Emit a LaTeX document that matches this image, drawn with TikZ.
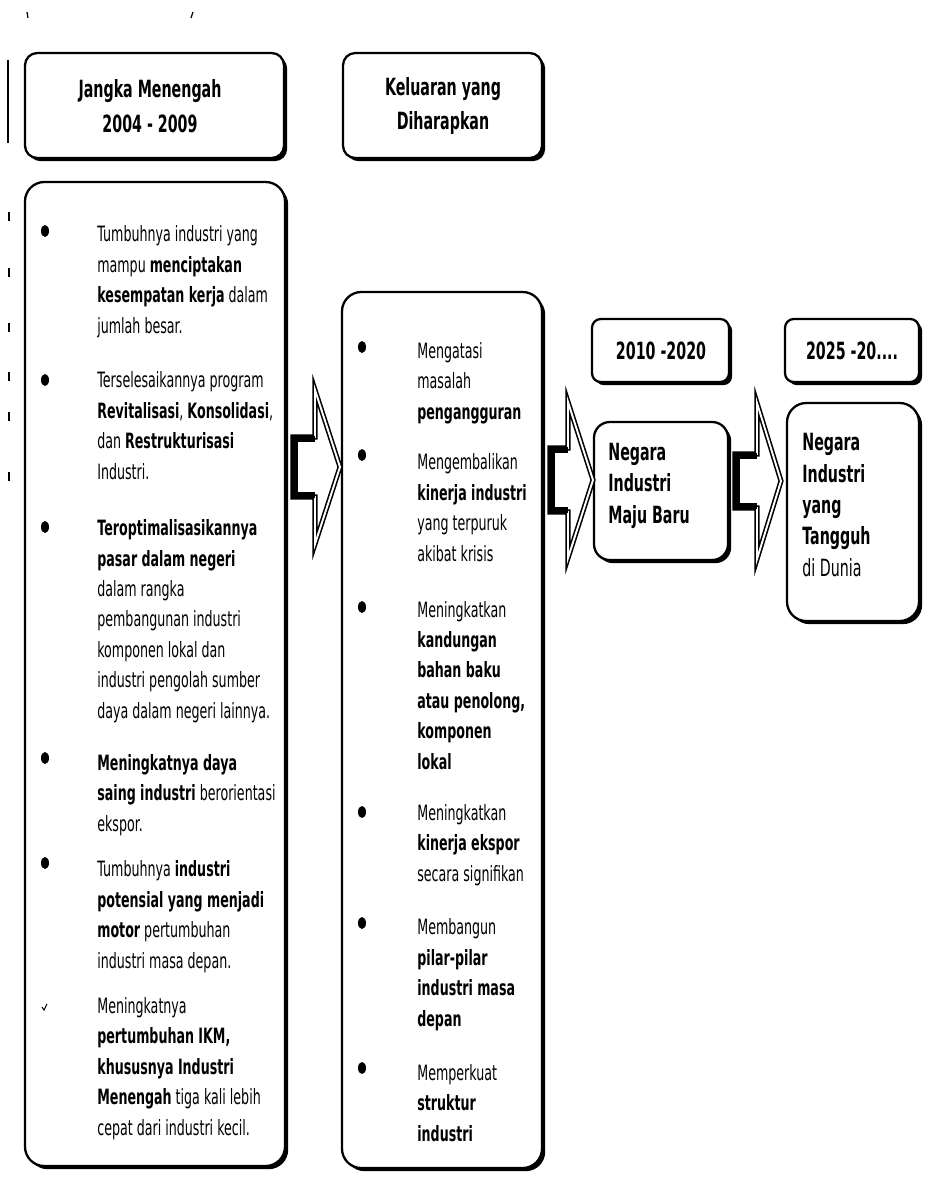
\documentclass[tikz,border=0pt]{standalone}
\usepackage{fontspec}
\setmainfont{DejaVu Sans}[FakeStretch=0.6]
\usetikzlibrary{fit,shadows}

\newcommand{\isifont}{\fontsize{12}{17.3}\selectfont}
\newcommand{\judulfont}{\fontsize{13.5}{19.8}\selectfont\bfseries}
\newcommand{\negarafont}{\fontsize{13.5}{17.8}\selectfont}

\tikzset{
kotak/.style={draw, line width=1.3pt, fill=white, inner sep=0pt,
  drop shadow={shadow xshift=1.8pt, shadow yshift=-1.8pt, opacity=1, fill=black}},
isi/.style={anchor=base west, align=left, inner sep=0pt, font=\isifont},
judul/.style={align=center, inner sep=0pt, font=\judulfont},
negara/.style={anchor=base west, align=left, inner sep=0pt, font=\negarafont},
}

\newcommand{\kotak}[6]{
\node[kotak, rounded corners=#6, fit={(#2,#3) (#4,#5)}] (#1) {};
}
\newcommand{\titik}[2]{
\fill (#1,#2) ellipse [x radius=4, y radius=6];
}
\newcommand{\panah}[6]{
\draw[line width=0.9pt, double=white, double distance=1.1pt, line join=miter, miter limit=20]
  (#1,#4-#5) -- (#2,#4-#5) -- (#2,#4-#6) -- (#3,#4) -- (#2,#4+#6) -- (#2,#4+#5) -- (#1,#4+#5) -- cycle;
\draw[line width=3.5pt] (#2,#4-#5+2) -- (#1+2,#4-#5+2) -- (#1+2,#4+#5-2) -- (#2,#4+#5-2);
}

\begin{document}
\begin{tikzpicture}[x=0.02cm, y=-0.02cm]
\useasboundingbox (0,0) rectangle (925,1184);

\kotak{jangka}{25}{53}{284}{158}{7pt}
\kotak{keluaran}{343}{53}{542}{158}{7pt}
\kotak{kiri}{25}{182}{285}{1166}{11pt}
\kotak{tengah}{342}{292}{542}{1168}{11pt}
\kotak{th2010}{592}{319}{729}{382}{5pt}
\kotak{th2025}{785}{319}{919}{382}{5pt}
\kotak{maju}{594}{422}{728}{560}{9pt}
\kotak{tangguh}{787}{403}{919}{621}{11pt}

\node[judul] (t-jangka) at (150,106) {Jangka Menengah\\2004 - 2009};
\node[judul] (t-keluaran) at (443,106) {Keluaran yang\\Diharapkan};
\node[judul] (t-2010) at (661,351) {2010 -2020};
\node[judul] (t-2025) at (852,351) {2025 -20....};

% base = baseline of the last line
\node[isi] (kiri-1) at (97,333) {Tumbuhnya industri yang\\mampu \textbf{menciptakan}\\\textbf{kesempatan kerja} dalam\\jumlah besar.};
\node[isi] (kiri-2) at (97,479) {Terselesaikannya program\\\textbf{Revitalisasi}, \textbf{Konsolidasi},\\dan \textbf{Restrukturisasi}\\Industri.};
\node[isi] (kiri-3) at (97,718) {\textbf{Teroptimalisasikannya}\\\textbf{pasar dalam negeri}\\dalam rangka\\pembangunan industri\\komponen lokal dan\\industri pengolah sumber\\daya dalam negeri lainnya.};
\node[isi] (kiri-4) at (97,831) {\textbf{Meningkatnya daya}\\\textbf{saing industri} berorientasi\\ekspor.};
\node[isi] (kiri-5) at (97,968) {Tumbuhnya \textbf{industri}\\\textbf{potensial yang menjadi}\\\textbf{motor} pertumbuhan\\industri masa depan.};
\node[isi] (kiri-6) at (97,1135) {Meningkatnya\\\textbf{pertumbuhan IKM,}\\\textbf{khususnya Industri}\\\textbf{Menengah} tiga kali lebih\\cepat dari industri kecil.};

\node[isi] (tengah-1) at (417,419) {Mengatasi\\masalah\\\textbf{pengangguran}};
\node[isi] (tengah-2) at (417,561) {Mengembalikan\\\textbf{kinerja industri}\\yang terpuruk\\akibat krisis};
\node[isi] (tengah-3) at (417,769) {Meningkatkan\\\textbf{kandungan}\\\textbf{bahan baku}\\\textbf{atau penolong,}\\\textbf{komponen}\\\textbf{lokal}};
\node[isi] (tengah-4) at (417,881) {Meningkatkan\\\textbf{kinerja ekspor}\\secara signifikan};
\node[isi] (tengah-5) at (417,1026) {Membangun\\\textbf{pilar-pilar}\\\textbf{industri masa}\\\textbf{depan}};
\node[isi] (tengah-6) at (417,1141) {Memperkuat\\\textbf{struktur}\\\textbf{industri}};

\node[negara, font=\negarafont\bfseries] (t-maju) at (608,523) {Negara\\Industri\\Maju Baru};
\node[negara] (t-tangguh) at (802,576) {\textbf{Negara}\\\textbf{Industri}\\\textbf{yang}\\\textbf{Tangguh}\\di Dunia};

\titik{45}{231}
\titik{45}{380}
\titik{45}{527}
\titik{45}{758}
\titik{45}{863}
\draw[line width=0.6pt] (42,1007) -- (44,1010) -- (47,1004);

\titik{362}{347}
\titik{362}{455}
\titik{362}{607}
\titik{362}{812}
\titik{362}{923}
\titik{362}{1068}

\panah{293}{315}{340}{467}{30}{77}
\panah{550}{568}{593}{480}{32}{78}
\panah{735}{757}{781}{481}{27}{78}

\draw[line width=1.3pt] (8,60) -- (8,143);
\draw[line width=0.7pt] (27,12) -- (28,18);
\draw[line width=0.7pt] (193,12) -- (191,18);
\foreach \y in {212,268,323,372,412,472}
  \draw[line width=0.7pt] (9,\y) -- (9,\y+9);
% \draw[help lines, step=50] (0,0) grid (925,1184);
\end{tikzpicture}
\end{document}
